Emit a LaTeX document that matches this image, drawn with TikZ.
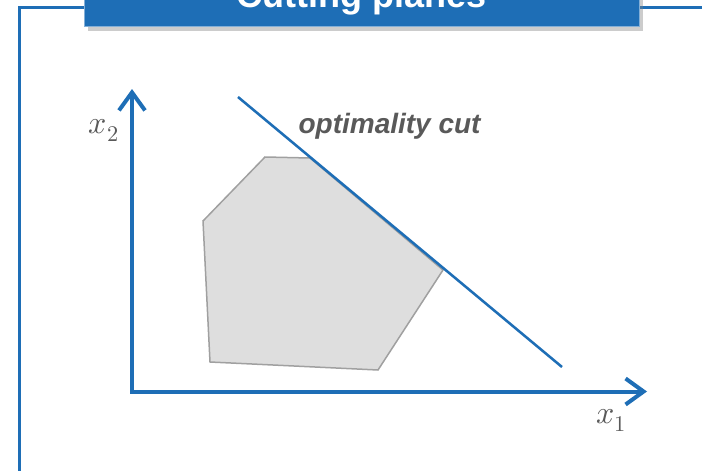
\documentclass[tikz,border=0pt]{standalone}
\usepackage{fontspec}
\usepackage{unicode-math}
\setmainfont{Liberation Sans}
\setmathfont{Latin Modern Math}
\usetikzlibrary{arrows.meta,shadows}
\definecolor{cutblue}{RGB}{30,110,182}
\definecolor{labelgray}{RGB}{89,89,89}
\definecolor{setgray}{RGB}{222,222,222}
\definecolor{edgegray}{RGB}{160,160,160}

\begin{document}
\begin{tikzpicture}[x=1pt,y=-1pt]
\useasboundingbox (0,0) rectangle (702,471);
\clip (0,0) rectangle (702,471);
\draw  [line  width=3,cutblue]  (19,471)  --  (19,7.5)  --  (702,7.5);
\node (title) at (361.5,-2) [fill=cutblue,draw=cutblue!55,line width=1,inner sep=0,minimum width=555,minimum height=56,drop shadow={shadow xshift=4pt,shadow yshift=-5pt,opacity=.4},text=white,font=\fontsize{36}{40}\selectfont\bfseries] {Cutting planes};

\coordinate (origin) at (132,391.5);
\coordinate (xtip) at (647,391.5);
\coordinate (ytip) at (132,89);
\draw  [fill=setgray,draw=edgegray,line  width=1.5]  (265,157)  --  (310,158)  --  (443,270)  --  (378,370)  --  (210,362)  --  (203,221)  --  cycle;
\coordinate (cuttop) at (238,97);
\coordinate (cutend) at (562,367);
\draw  [line  width=2.5,cutblue]  (cuttop)  --  (cutend);
\draw  [{Straight Barb[length=18pt,width=26pt]}-{Straight Barb[length=18pt,width=26pt]},line  width=4,line join=miter,cutblue]  (ytip)  --  (origin)  --  (xtip);
\node (xone) at (611,420) [labelgray,font=\fontsize{32}{34}\selectfont] {$x_1$};
\node (xtwo) at (104,130) [labelgray,font=\fontsize{32}{34}\selectfont] {$x_2$};
\node (cutlabel) at (295,133) [anchor=base west,labelgray,font=\fontsize{28}{30}\selectfont\bfseries\itshape] {optimality cut};

\end{tikzpicture}
\end{document}
